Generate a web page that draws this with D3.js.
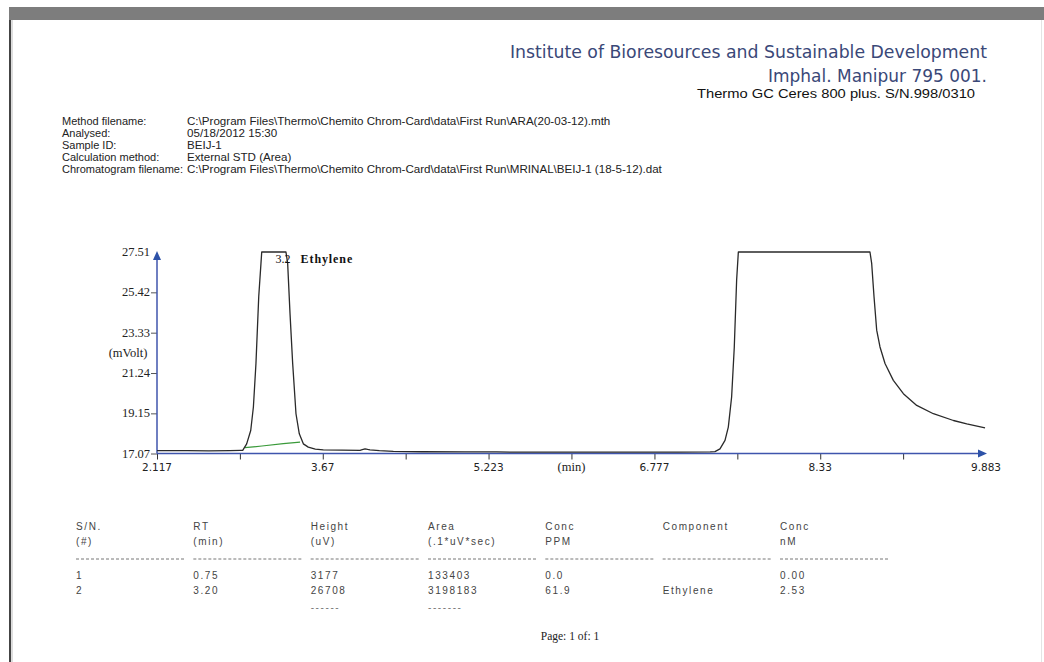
<!DOCTYPE html>
<html>
<head>
<meta charset="utf-8">
<script src="https://cdn.jsdelivr.net/npm/d3@7"></script>
<style>
  html, body { margin: 0; padding: 0; background: #fff; }
  svg { display: block; }
</style>
</head>
<body>
<svg id="page" width="1044" height="662"></svg>
<script>
// ---- report header ----
const instituteLines = ["Institute of Bioresources and Sustainable Development", "Imphal. Manipur 795 001."];
const instrumentLine = "Thermo GC Ceres 800 plus. S/N.998/0310";
const metaLabels = ["Method filename:", "Analysed:", "Sample ID:", "Calculation method:", "Chromatogram filename:"];
const metaValues = [
  "C:\\Program Files\\Thermo\\Chemito Chrom-Card\\data\\First Run\\ARA(20-03-12).mth",
  "05/18/2012  15:30",
  "BEIJ-1",
  "External STD (Area)",
  "C:\\Program Files\\Thermo\\Chemito Chrom-Card\\data\\First Run\\MRINAL\\BEIJ-1 (18-5-12).dat"
];

// ---- chromatogram trace (min, mV) ----
const traceTime = [2.117, 2.40, 2.60, 2.80, 2.90, 2.920, 2.957, 2.995, 3.020, 3.044, 3.070, 3.091, 3.098,
  3.325, 3.341, 3.363, 3.388, 3.419, 3.450, 3.488, 3.534, 3.60, 3.675, 3.85, 4.019, 4.040, 4.066, 4.090,
  4.112, 4.200, 4.331, 4.60, 5.00, 5.30, 5.50, 6.00, 6.50, 7.00, 7.30, 7.344, 7.391, 7.438, 7.469, 7.500,
  7.525, 7.547, 7.563, 8.796, 8.812, 8.834, 8.859, 8.890, 8.937, 9.015, 9.109, 9.234, 9.390, 9.578, 9.703, 9.874];
const traceMv = [17.22, 17.22, 17.21, 17.22, 17.23, 17.23, 17.57, 18.26, 19.48, 21.73, 25.19, 26.92, 27.51,
  27.51, 26.92, 24.33, 21.73, 19.13, 18.09, 17.57, 17.40, 17.30, 17.26, 17.24, 17.23, 17.27, 17.31, 17.28,
  17.26, 17.22, 17.18, 17.16, 17.15, 17.15, 17.14, 17.14, 17.14, 17.14, 17.15, 17.17, 17.31, 17.75, 18.44, 20.00,
  22.59, 26.06, 27.51, 27.51, 26.92, 25.19, 23.46, 22.59, 21.73, 20.86, 20.17, 19.56, 19.13, 18.78, 18.61, 18.40];

// integration baseline under the ethylene peak
const baseTime = [2.941, 3.10, 3.30, 3.457];
const baseMv = [17.37, 17.46, 17.58, 17.66];

const peakRt = 3.2;
const peakName = "Ethylene";

const yTicks = [17.07, 19.15, 21.24, 23.33, 25.42, 27.51];
const xTicks = [2.117, 2.8935, 3.67, 4.4465, 5.223, 5.9995, 6.777, 7.5535, 8.33, 9.1065, 9.883];
const xTickLabels = ["2.117", "", "3.67", "", "5.223", "(min)", "6.777", "", "8.33", "", "9.883"];

// ---- results table ----
const colHead1 = ["S/N.", "RT", "Height", "Area", "Conc", "Component", "Conc"];
const colHead2 = ["(#)", "(min)", "(uV)", "(.1*uV*sec)", "PPM", "", "nM"];
const colSN = ["1", "2"];
const colRT = ["0.75", "3.20"];
const colHeight = ["3177", "26708"];
const colArea = ["133403", "3198183"];
const colConcPpm = ["0.0", "61.9"];
const colComponent = ["", "Ethylene"];
const colConcNm = ["0.00", "2.53"];
const totalsMarks = ["", "", "------", "-------", "", "", ""];
const pageLabel = "Page: 1 of: 1";

const svg = d3.select("#page");
const serif = "'Liberation Serif', 'DejaVu Serif', serif";
const narrow = "'Liberation Sans Narrow', 'Liberation Sans', Arial, sans-serif";
const sans = "'DejaVu Sans', Verdana, sans-serif";
const plain = "'Liberation Sans', Arial, sans-serif";

// page frame
svg.append("rect").attr("x", 0).attr("y", 0).attr("width", 1044).attr("height", 662).attr("fill", "#fff");
svg.append("rect").attr("x", 9).attr("y", 7).attr("width", 1035).attr("height", 13).attr("fill", "#7d7d7d");
svg.append("rect").attr("x", 9).attr("y", 20).attr("width", 2).attr("height", 642).attr("fill", "#444");
svg.append("rect").attr("x", 11).attr("y", 20).attr("width", 2).attr("height", 642).attr("fill", "#ddd");
svg.append("rect").attr("x", 1041).attr("y", 20).attr("width", 1).attr("height", 642).attr("fill", "#e4e4e4");

// header
const instWidths = [477, 219];
svg.selectAll("text.inst").data(instituteLines).enter().append("text")
  .attr("class", "inst")
  .attr("x", 987).attr("y", (d, i) => 58 + i * 24)
  .attr("text-anchor", "end")
  .attr("font-family", "'DejaVu Sans Condensed', 'Open Sans', sans-serif")
  .attr("font-size", 17.5).attr("fill", "#3a4878")
  .attr("textLength", (d, i) => instWidths[i]).attr("lengthAdjust", "spacingAndGlyphs")
  .text(d => d);

svg.append("text").attr("x", 975).attr("y", 98).attr("text-anchor", "end")
  .attr("font-family", plain).attr("font-size", 12).attr("fill", "#111")
  .attr("textLength", 278).attr("lengthAdjust", "spacingAndGlyphs")
  .text(instrumentLine);

const meta = svg.append("g").attr("font-family", narrow).attr("fill", "#222");
meta.selectAll("text.lab").data(metaLabels).enter().append("text")
  .attr("x", 62).attr("y", (d, i) => 125 + i * 12).attr("font-size", 11).text(d => d);
meta.selectAll("text.val").data(metaValues).enter().append("text")
  .attr("x", 187).attr("y", (d, i) => 125 + i * 12).attr("font-size", 11.6).text(d => d);

// ---- chart ----
const x = d3.scaleLinear().domain([2.117, 9.883]).range([157, 986]);
const y = d3.scaleLinear().domain([17.07, 27.51]).range([453.5, 252]);
const axisBlue = "#3f55ad";

const xAxis = svg.append("g").attr("transform", "translate(0," + y(17.07) + ")")
  .call(d3.axisBottom(x).tickValues(xTicks.slice(0, -1)).tickSize(6).tickFormat(""));
xAxis.select(".domain").remove();
xAxis.selectAll(".tick line").attr("stroke", "#333");

const yAxis = svg.append("g").attr("transform", "translate(" + x(2.117) + ",0)")
  .call(d3.axisLeft(y).tickValues(yTicks.slice(0, -1)).tickSize(6).tickFormat(""));
yAxis.select(".domain").remove();
yAxis.selectAll(".tick line").attr("stroke", "#555");

// axis lines with arrows
svg.append("line").attr("x1", x(2.117)).attr("x2", x(9.883) - 4)
  .attr("y1", y(17.07)).attr("y2", y(17.07)).attr("stroke", axisBlue).attr("stroke-width", 1.5);
svg.append("line").attr("x1", x(2.117)).attr("x2", x(2.117))
  .attr("y1", y(17.07)).attr("y2", y(27.51) + 4).attr("stroke", axisBlue).attr("stroke-width", 1.5);
svg.append("path")
  .attr("d", d3.line()([[x(9.883) + 1, y(17.07)], [x(9.883) - 8, y(17.07) - 4], [x(9.883) - 8, y(17.07) + 4]]) + "Z")
  .attr("fill", "#2d52a8");
svg.append("path")
  .attr("d", d3.line()([[x(2.117), y(27.51) - 1], [x(2.117) - 4, y(27.51) + 8], [x(2.117) + 4, y(27.51) + 8]]) + "Z")
  .attr("fill", "#2d52a8");

// tick labels
svg.selectAll("text.yt").data(yTicks).enter().append("text")
  .attr("x", x(2.117) - 7).attr("y", d => y(d) + 4)
  .attr("text-anchor", "end").attr("font-family", serif).attr("font-size", 12.5).attr("fill", "#222")
  .text(d => d3.format(".2f")(d));
svg.append("text").attr("x", 128).attr("y", 357).attr("text-anchor", "middle")
  .attr("font-family", serif).attr("font-size", 12.5).attr("fill", "#222").text("(mVolt)");

svg.selectAll("text.xt").data(xTicks).enter().append("text")
  .attr("x", d => x(d)).attr("y", 471)
  .attr("text-anchor", "middle")
  .attr("font-family", (d, i) => xTickLabels[i].startsWith("(") ? serif : sans)
  .attr("font-size", (d, i) => xTickLabels[i].startsWith("(") ? 12.5 : 10.5)
  .attr("fill", "#222")
  .text((d, i) => xTickLabels[i]);

// trace
const line = d3.line().x(d => x(d[0])).y(d => y(d[1]));
svg.append("path").datum(d3.zip(baseTime, baseMv))
  .attr("d", line).attr("fill", "none").attr("stroke", "#3a9a3a").attr("stroke-width", 1.2);
svg.append("path").datum(d3.zip(traceTime, traceMv))
  .attr("d", line).attr("fill", "none").attr("stroke", "#2a2a2a").attr("stroke-width", 1.3)
  .attr("stroke-linejoin", "round");

const peakText = svg.append("text").attr("x", x(peakRt) + 3).attr("y", y(27.51) + 11)
  .attr("font-family", serif).attr("font-size", 12).attr("fill", "#111");
peakText.append("tspan").text(String(peakRt));
peakText.append("tspan").attr("dx", 10).attr("letter-spacing", 0.9).attr("font-weight", "bold").text(peakName);

// ---- table ----
const col = d3.scalePoint().domain(d3.range(colHead1.length)).range([76, 780]);
const table = svg.append("g").attr("font-family", plain).attr("font-size", 10)
  .attr("fill", "#444").attr("letter-spacing", 1.6);

function row(values, yPos) {
  table.selectAll(null).data(values).enter().append("text")
    .attr("x", (d, i) => col(i)).attr("y", yPos).text(d => d);
}
row(colHead1, 530);
row(colHead2, 545);
table.selectAll("line.sep").data(colHead1).enter().append("line")
  .attr("x1", (d, i) => col(i)).attr("x2", (d, i) => col(i) + 108)
  .attr("y1", 559).attr("y2", 559)
  .attr("stroke", "#777").attr("stroke-width", 1).attr("stroke-dasharray", "3,2");

const dataCols = [colSN, colRT, colHeight, colArea, colConcPpm, colComponent, colConcNm];
colSN.forEach((_, r) => row(dataCols.map(c => c[r]), 579 + r * 15));
table.selectAll("text.tot").data(totalsMarks).enter().append("text")
  .attr("x", (d, i) => col(i)).attr("y", 611).attr("fill", "#777").text(d => d);

svg.append("text").attr("x", 570).attr("y", 640).attr("text-anchor", "middle")
  .attr("font-family", serif).attr("font-size", 11.5).attr("fill", "#222").text(pageLabel);
</script>
</body>
</html>
